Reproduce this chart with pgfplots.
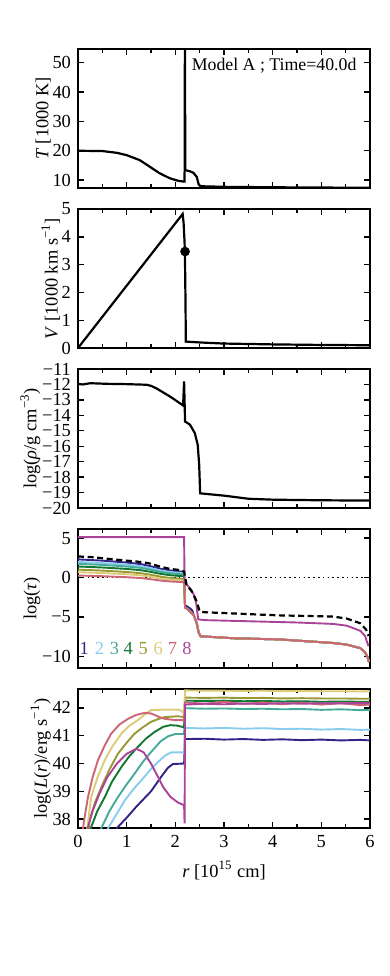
\documentclass[border=0pt]{standalone}
\usepackage{fontspec}
\setmainfont{Liberation Serif}
\usepackage{pgfplots}
\pgfplotsset{compat=1.18}
\definecolor{c1}{HTML}{332288}
\definecolor{c2}{HTML}{88CCEE}
\definecolor{c3}{HTML}{44AA99}
\definecolor{c4}{HTML}{117733}
\definecolor{c5}{HTML}{999933}
\definecolor{c6}{HTML}{DDCC77}
\definecolor{c7}{HTML}{CC6677}
\definecolor{c8}{HTML}{AA4499}
\newcommand\ff{\fontsize{9.2}{10.5}\selectfont}
\pgfplotsset{
  panel/.style={
    scale only axis, width=146pt, height=69.5pt,
    xmin=0, xmax=6, xtick={0,1,2,3,4,5,6}, minor x tick num=1,
    xticklabels={},
    tick align=inside,
    major tick length=2.8pt, minor tick length=1.8pt,
    axis line style={line width=0.9pt},
    every tick/.style={black, line width=0.7pt},
    tick label style={font=\ff},
    label style={font=\ff},
    ylabel shift=-6pt,
  },
  dat/.style={black, line width=1.1pt},
  col/.style={line width=0.95pt},
}
\begin{document}
\begin{tikzpicture}
\path[use as bounding box] (-39pt,-394pt) rectangle (156pt,94pt);

% temperature
\begin{axis}[panel, at={(0pt,0pt)},
  ymin=7.3, ymax=54.7, ytick={10,20,30,40,50}, yticklabels={10,20,30,40,50},
  ylabel={\textit{T} [1000 K]}]
\addplot[dat] coordinates {
(0,20) (0.5,19.9) (0.8,19.3) (1.0,18.5) (1.27,16.8) (1.48,14.5) (1.68,12.3)
(1.89,10.6) (2.05,9.8) (2.16,9.5) (2.19,9.5) (2.197,60) (2.205,13.4)
(2.3,13.0) (2.37,12.5) (2.44,11.1) (2.48,8.5) (2.52,7.9) (3,7.7) (4,7.55)
(5,7.45) (6,7.4)};
\node[anchor=north east, inner sep=0pt, font=\fontsize{8.9}{10}\selectfont] at (rel axis cs:0.955,0.94) {Model A ; Time=40.0d};
\end{axis}

% velocity
\begin{axis}[panel, at={(0pt,-80pt)},
  ymin=0, ymax=5, ytick={0,1,2,3,4,5}, yticklabels={0,1,2,3,4,5},
  ylabel={\textit{V} [1000 km s\textsuperscript{−1}]}]
\addplot[dat] coordinates {
(0,0) (2.15,4.82) (2.17,4.5) (2.19,3.8) (2.2,3.0) (2.21,1.5) (2.215,0.23)
(2.5,0.2) (3,0.16) (4,0.13) (5,0.11) (6,0.1)};
\addplot[only marks, mark=*, mark size=2.2pt, black] coordinates {(2.2,3.47)};
\end{axis}

% density
\begin{axis}[panel, at={(0pt,-160pt)},
  ymin=-20, ymax=-11, ytick={-20,-19,...,-11},
  yticklabels={−20,−19,−18,−17,−16,−15,−14,−13,−12,−11},
  ylabel={log(\textit{ρ}/g cm\textsuperscript{−3})}]
\addplot[dat] coordinates {
(0,-11.97) (0.1,-12.0) (0.25,-11.92) (0.6,-11.96) (1.0,-11.98) (1.41,-12.02)
(1.51,-12.1) (1.62,-12.27) (1.9,-12.8) (2.16,-13.36) (2.18,-11.8) (2.2,-14.4)
(2.3,-14.6) (2.4,-15.15) (2.46,-15.9) (2.49,-17.2) (2.51,-19.05) (3.0,-19.2)
(3.5,-19.4) (4.0,-19.46) (5,-19.5) (6,-19.52)};
\end{axis}

% optical depth
\begin{axis}[panel, at={(0pt,-240pt)},
  ymin=-11.47, ymax=6.15, ytick={-10,-5,0,5}, yticklabels={−10,−5,0,5},
  ylabel={log(\textit{τ})}]
\addplot[black, line width=0.8pt, dash pattern=on 0.8pt off 1.6pt] coordinates {(0,0) (6,0)};
\addplot[col, c1] coordinates {
(0,2.3) (0.5,2.14) (1.0,1.9) (1.3,1.69) (1.5,1.42) (1.7,1.1) (1.9,0.89) (2.1,0.76) (2.18,0.7)
(2.2,-3.5) (2.3,-3.9) (2.35,-4.2) (2.38,-4.8) (2.44,-5.8) (2.48,-7.0) (2.52,-7.45) (3.2,-7.7)
(4.15,-7.85) (5.24,-8.3) (5.52,-8.5) (5.8,-8.95) (5.9,-9.5) (5.95,-10.1) (5.98,-10.7)};
\addplot[col, c2] coordinates {
(0,1.98) (0.5,1.83) (1.0,1.62) (1.3,1.43) (1.5,1.18) (1.7,0.89) (1.9,0.7) (2.1,0.58) (2.18,0.52)
(2.2,-3.8) (2.25,-4.0) (2.3,-4.3) (2.38,-4.8) (2.44,-5.8) (2.48,-7.0) (2.52,-7.45) (3.2,-7.7)
(4.15,-7.85) (5.24,-8.3) (5.52,-8.5) (5.8,-8.95) (5.9,-9.5) (5.95,-10.1) (5.98,-10.7)};
\addplot[col, c3] coordinates {
(0,1.74) (0.5,1.6) (1.0,1.4) (1.3,1.22) (1.5,0.98) (1.7,0.71) (1.9,0.53) (2.1,0.42) (2.18,0.36)
(2.2,-3.8) (2.25,-4.0) (2.3,-4.3) (2.38,-4.8) (2.44,-5.8) (2.48,-7.0) (2.52,-7.45) (3.2,-7.7)
(4.15,-7.85) (5.24,-8.3) (5.52,-8.5) (5.8,-8.95) (5.9,-9.5) (5.95,-10.1) (5.98,-10.7)};
\addplot[col, c4] coordinates {
(0,1.4) (0.5,1.27) (1.0,1.09) (1.3,0.92) (1.5,0.71) (1.7,0.46) (1.9,0.29) (2.1,0.19) (2.18,0.14)
(2.2,-3.8) (2.25,-4.0) (2.3,-4.3) (2.38,-4.8) (2.44,-5.8) (2.48,-7.0) (2.52,-7.45) (3.2,-7.7)
(4.15,-7.85) (5.24,-8.3) (5.52,-8.5) (5.8,-8.95) (5.9,-9.5) (5.95,-10.1) (5.98,-10.7)};
\addplot[col, c5] coordinates {
(0,1.0) (0.5,0.88) (1.0,0.7) (1.3,0.54) (1.5,0.34) (1.7,0.1) (1.9,-0.06) (2.1,-0.15) (2.18,-0.2)
(2.2,-3.8) (2.25,-4.0) (2.3,-4.3) (2.38,-4.8) (2.44,-5.8) (2.48,-7.0) (2.52,-7.45) (3.2,-7.7)
(4.15,-7.85) (5.24,-8.3) (5.52,-8.5) (5.8,-8.95) (5.9,-9.5) (5.95,-10.1) (5.98,-10.7)};
\addplot[col, c6] coordinates {
(0,0.68) (0.5,0.57) (1.0,0.41) (1.3,0.27) (1.5,0.09) (1.7,-0.13) (1.9,-0.27) (2.1,-0.36) (2.18,-0.4)
(2.2,-3.8) (2.25,-4.0) (2.3,-4.3) (2.38,-4.8) (2.44,-5.8) (2.48,-7.0) (2.52,-7.45) (3.2,-7.7)
(4.15,-7.85) (5.24,-8.3) (5.52,-8.5) (5.8,-8.95) (5.9,-9.5) (5.95,-10.1) (5.98,-10.7)};
\addplot[col, c7] coordinates {
(0,0.25) (0.5,0.17) (1.0,0.04) (1.3,-0.07) (1.5,-0.22) (1.7,-0.39) (1.9,-0.5) (2.1,-0.57) (2.18,-0.6)
(2.2,-3.8) (2.25,-4.0) (2.3,-4.3) (2.38,-4.8) (2.44,-5.8) (2.48,-7.0) (2.52,-7.45) (3.2,-7.7)
(4.15,-7.85) (5.24,-8.3) (5.52,-8.5) (5.8,-8.95) (5.9,-9.5) (5.95,-10.1) (5.98,-10.7)};
\addplot[col, c8] coordinates {
(0,5.13) (2.18,5.13) (2.19,-0.6) (2.25,-1.0) (2.32,-1.5) (2.38,-2.2) (2.43,-3.3) (2.47,-5.3)
(2.6,-5.4) (3.74,-5.58) (4.5,-5.7) (5.24,-5.88) (5.52,-6.1) (5.8,-6.75) (5.9,-7.4) (5.94,-8.2) (5.97,-8.7)};
\addplot[black, line width=1.1pt, dash pattern=on 3pt off 1.8pt] coordinates {
(0,2.67) (0.27,2.59) (0.48,2.46) (0.68,2.33) (0.96,2.16) (1.2,2.03) (1.44,1.83) (1.68,1.4)
(1.88,1.1) (2.05,0.98) (2.18,0.76) (2.23,-0.9) (2.34,-1.77) (2.44,-3.04) (2.5,-4.3)
(2.6,-4.4) (3.74,-4.7) (4.15,-4.8) (5.24,-4.95) (5.52,-5.2) (5.8,-5.8) (5.92,-6.6) (5.97,-7.4)};
\node[c1, font=\ff] at (axis cs:0.13,-8.96) {1};
\node[c2, font=\ff] at (axis cs:0.44,-8.96) {2};
\node[c3, font=\ff] at (axis cs:0.75,-8.96) {3};
\node[c4, font=\ff] at (axis cs:1.03,-8.96) {4};
\node[c5, font=\ff] at (axis cs:1.34,-8.96) {5};
\node[c6, font=\ff] at (axis cs:1.65,-8.96) {6};
\node[c7, font=\ff] at (axis cs:1.94,-8.96) {7};
\node[c8, font=\ff] at (axis cs:2.24,-8.96) {8};
\end{axis}

% luminosity
\begin{axis}[panel, at={(0pt,-320pt)},
  ymin=37.68, ymax=42.68, ytick={38,39,40,41,42}, yticklabels={38,39,40,41,42},
  xticklabels={0,1,2,3,4,5,6},
  ylabel={log(\textit{L}(\textit{r})/erg s\textsuperscript{−1})},
  xlabel={\textit{r} [10\textsuperscript{15} cm]}]
\addplot[col, c1] coordinates {
(0.72,37.3) (0.8,37.68) (1.0,38.05) (1.2,38.45) (1.5,39.0) (1.7,39.5) (1.85,39.85) (1.95,39.98) (2.18,40.0)
(2.2,40.88) (2.6,40.89) (3.0,40.86) (3.4,40.88) (3.8,40.85) (4.2,40.87) (4.6,40.84) (5.0,40.86) (5.4,40.83) (5.8,40.85) (6.0,40.83)};
\addplot[col, c2] coordinates {
(0.55,37.3) (0.62,37.68) (0.8,38.2) (0.96,38.67) (1.15,39.1) (1.3,39.39) (1.5,39.8) (1.64,40.05) (1.8,40.3) (1.92,40.4) (2.18,40.4)
(2.2,41.28) (2.6,41.26) (3.0,41.28) (3.4,41.25) (3.8,41.27) (4.2,41.24) (4.6,41.25) (5.0,41.22) (5.4,41.24) (5.8,41.21) (6.0,41.22)};
\addplot[col, c3] coordinates {
(0.42,37.3) (0.48,37.68) (0.65,38.3) (0.82,38.79) (1.0,39.25) (1.16,39.63) (1.33,40.05) (1.5,40.41) (1.7,40.8) (1.85,40.98) (2.0,41.06) (2.18,41.06)
(2.2,41.99) (2.6,41.97) (3.0,41.98) (3.4,41.96) (3.8,41.97) (4.2,41.95) (4.6,41.96) (5.0,41.93) (5.4,41.95) (5.8,41.92) (6.0,41.93)};
\addplot[col, c4] coordinates {
(0.22,37.3) (0.27,37.71) (0.4,38.3) (0.55,38.79) (0.7,39.35) (0.89,39.87) (1.05,40.25) (1.23,40.6) (1.4,40.9) (1.57,41.13) (1.75,41.32) (1.9,41.38) (2.05,41.36) (2.18,41.3)
(2.2,42.26) (2.6,42.25) (3.0,42.26) (3.4,42.24) (3.8,42.25) (4.2,42.23) (4.6,42.24) (5.0,42.22) (5.4,42.23) (5.8,42.22) (6.0,42.22)};
\addplot[col, c5] coordinates {
(0.2,37.3) (0.24,37.95) (0.35,38.6) (0.48,39.15) (0.65,39.8) (0.82,40.35) (1.0,40.75) (1.16,41.07) (1.33,41.3) (1.5,41.5) (1.65,41.6) (1.78,41.67) (2.05,41.7) (2.18,41.67)
(2.2,42.37) (2.6,42.36) (3.0,42.37) (3.4,42.35) (3.8,42.36) (4.2,42.34) (4.6,42.35) (5.0,42.34) (5.4,42.34) (5.8,42.33) (6.0,42.33)};
\addplot[col, c6] coordinates {
(0.15,37.3) (0.2,37.8) (0.27,38.79) (0.4,39.5) (0.55,40.12) (0.7,40.6) (0.89,41.07) (1.05,41.35) (1.23,41.56) (1.4,41.8) (1.5,41.92) (1.78,41.94) (2.05,41.94) (2.12,41.9) (2.18,41.8)
(2.2,42.63) (2.6,42.62) (3.0,42.62) (3.4,42.61) (3.8,42.62) (4.2,42.6) (4.6,42.61) (5.0,42.6) (5.4,42.6) (5.8,42.59) (6.0,42.6)};
\addplot[col, c7] coordinates {
(0.08,37.3) (0.12,37.9) (0.205,38.79) (0.3,39.5) (0.41,40.12) (0.55,40.65) (0.68,41.07) (0.85,41.4) (1.03,41.61) (1.2,41.75) (1.37,41.82) (1.5,41.8) (1.57,41.75) (1.7,41.65) (1.78,41.61) (1.99,41.56) (2.18,41.56)
(2.2,42.2) (2.6,42.15) (3.0,42.22) (3.4,42.14) (3.8,42.2) (4.2,42.13) (4.6,42.19) (5.0,42.12) (5.4,42.17) (5.8,42.1) (6.0,42.12)};
\addplot[col, c8] coordinates {
(0.15,37.3) (0.2,37.68) (0.3,38.3) (0.45,38.95) (0.6,39.5) (0.8,40.0) (1.0,40.35) (1.2,40.53) (1.35,40.4) (1.5,40.0) (1.65,39.5) (1.75,39.15) (1.9,38.8) (2.05,38.6) (2.18,38.5) (2.19,37.85)
(2.2,42.12) (2.6,42.15) (3.0,42.13) (3.4,42.16) (3.8,42.14) (4.2,42.17) (4.6,42.15) (5.0,42.17) (5.4,42.16) (5.8,42.18) (6.0,42.17)};
\end{axis}
\end{tikzpicture}
\end{document}
